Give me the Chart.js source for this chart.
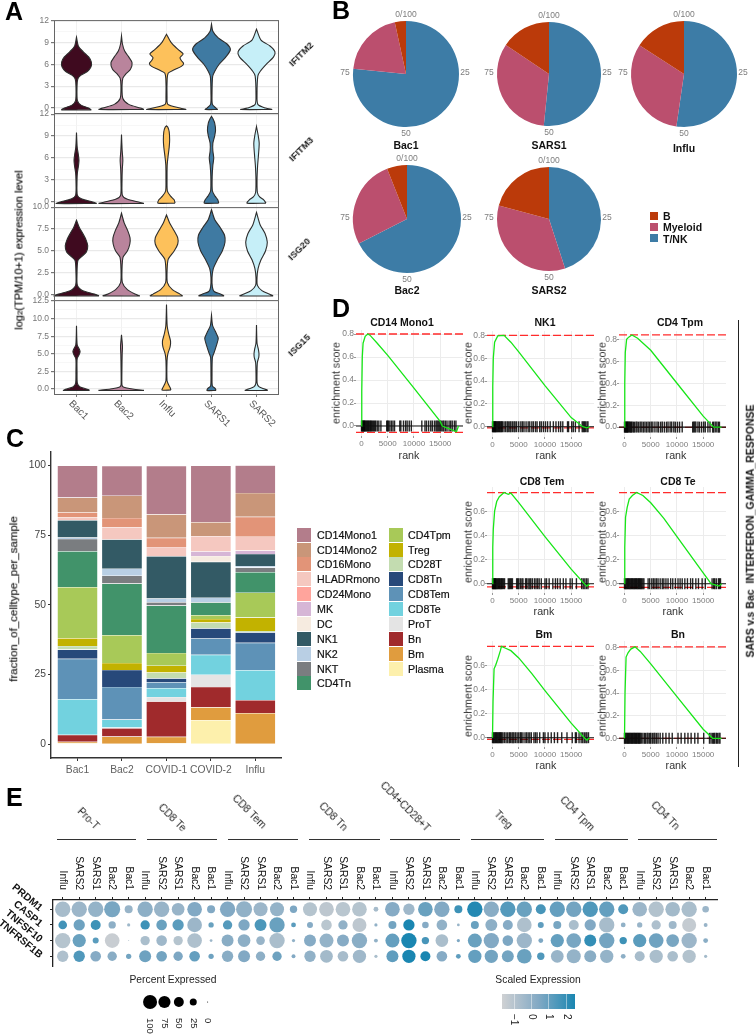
<!DOCTYPE html>
<html>
<head>
<meta charset="utf-8">
<script src="https://cdn.jsdelivr.net/npm/chart.js@4"></script>
<style>
  body { margin: 0; background: #fff; }
  #root { position: relative; width: 756px; height: 1034px; overflow: hidden; font-family: "Liberation Sans", Arial, sans-serif; }
  #root canvas, .t, .sq, .ln { position: absolute; }
  .t { white-space: nowrap; line-height: 1; will-change: transform; }
</style>
</head>
<body>
<div id="root"></div>
<script>
// ---- panel A data: [value, half width] profiles of each violin
var groups = ['Bac1', 'Bac2', 'Influ', 'SARS1', 'SARS2'];
var groupColors = ['#3f0a1f', '#b9849c', '#fdc15b', '#3f7aa2', '#c6eff8'];
var ifitm2 = [
  [[-0.25,.33],[0,.27],[0.4,.1],[1,.02],[3,.012],[4,.03],[4.5,.1],[5,.24],[5.6,.32],[6.3,.33],[7,.27],[7.7,.15],[8.5,.04],[9.7,0]],
  [[-0.2,.5],[0,.42],[.5,.16],[1.3,.03],[3,.012],[4.1,.03],[4.7,.1],[5.3,.2],[6.2,.235],[7,.16],[7.8,.07],[8.8,.02],[9.9,0]],
  [[-0.2,.44],[0,.3],[.5,.03],[1.5,.012],[4,.015],[4.8,.04],[5.2,.16],[5.7,.33],[6.1,.38],[6.5,.33],[6.9,.3],[7.4,.37],[8,.26],[9,.1],[10.1,0]],
  [[-0.2,.14],[0,.1],[.5,.02],[2,.012],[4.3,.025],[5,.07],[6,.17],[7,.32],[8,.42],[8.8,.34],[9.6,.15],[10.5,.03],[11.5,0]],
  [[-0.2,.35],[0,.2],[.5,.03],[2,.012],[4.4,.03],[5,.08],[6,.22],[7,.38],[7.7,.41],[8.5,.3],[9.3,.1],[10.8,0]]
];
var ifitm3 = [
  [[-.2,.45],[0,.36],[.4,.12],[.9,.02],[3,.012],[4,.02],[5,.045],[5.7,.055],[6.5,.04],[7.5,.015],[9.5,0]],
  [[-.2,.5],[0,.38],[.4,.12],[.9,.02],[3,.012],[4.5,.018],[5.7,.03],[7,.015],[9.2,0]],
  [[-.15,.19],[.3,.17],[.8,.09],[1.5,.02],[3,.012],[5,.015],[6,.03],[7.5,.06],[8.5,.07],[9.6,.06],[10.2,.03],[10.4,0]],
  [[-.15,.16],[.3,.14],[.8,.08],[1.5,.02],[3.5,.015],[5,.03],[6,.05],[7,.03],[8,.03],[9,.07],[9.8,.09],[10.8,.07],[11.4,.03],[11.7,0]],
  [[-.15,.21],[.3,.16],[.7,.07],[1.3,.02],[3,.012],[5,.025],[6.5,.045],[8,.06],[9,.04],[10.3,0]]
];
var isg20 = [
  [[-.1,.5],[.1,.4],[.5,.13],[1.1,.02],[2.5,.012],[3.9,.03],[4.3,.1],[4.9,.22],[5.6,.25],[6.3,.21],[7,.14],[7.7,.06],[8.5,0]],
  [[-.1,.41],[.1,.3],[.6,.13],[1.4,.02],[3,.012],[4.3,.035],[5,.13],[5.8,.185],[6.5,.19],[7.3,.14],[8.2,.06],[9.3,0]],
  [[-.1,.36],[.1,.3],[.6,.13],[1.4,.02],[3,.015],[4.1,.04],[5,.17],[5.8,.25],[6.5,.25],[7.3,.17],[8.2,.07],[9.1,0]],
  [[-.1,.28],[.1,.2],[.4,.06],[.9,.02],[2,.012],[3,.04],[4,.13],[5,.24],[6,.3],[6.8,.29],[7.7,.19],[8.6,.07],[9.7,0]],
  [[-.1,.37],[.1,.28],[.5,.12],[1.1,.02],[2,.012],[3,.035],[4,.1],[5,.2],[6,.24],[7,.19],[8,.08],[9.4,0]]
];
var isg15 = [
  [[-.2,.29],[0,.22],[.3,.08],[.8,.02],[2.5,.012],[4.3,.015],[4.9,.06],[5.3,.08],[5.7,.06],[6.3,.015],[9,0]],
  [[-.2,.5],[0,.25],[.3,.04],[.6,.01],[3,.01],[5,.015],[6,.022],[7,.01],[7.7,0]],
  [[-.15,.1],[.2,.08],[.7,.04],[1.2,.012],[4,.012],[5,.03],[6,.08],[6.8,.09],[7.8,.05],[9,.015],[12,0]],
  [[-.2,.1],[.1,.08],[.4,.02],[2,.012],[4.5,.02],[5.2,.06],[6.2,.11],[7.2,.15],[8,.1],[9,.025],[10.5,0]],
  [[-.2,.25],[0,.18],[.3,.06],[.8,.015],[2.5,.012],[3.8,.02],[4.5,.05],[5,.055],[5.7,.04],[6.5,.012],[9.1,0]]
];
var ticks12 = [0, 1.5, 3, 4.5, 6, 7.5, 9, 10.5, 12];
var ticks10 = [0, 1.25, 2.5, 3.75, 5, 6.25, 7.5, 8.75, 10];
var ticks125 = [0, 1.25, 2.5, 3.75, 5, 6.25, 7.5, 8.75, 10, 11.25, 12.5];

// ---- panel B data: percent of T/NK, Myeloid, B
var pieClasses = ['T/NK', 'Myeloid', 'B'];
var pieColors = ['#3d7ca6', '#bb4f6e', '#bb3a0a'];
var pieBac1 = [76.6, 20, 3.4];
var pieSars1 = [51.6, 32.8, 15.6];
var pieInflu = [52.3, 31.8, 15.9];
var pieBac2 = [67.5, 26.5, 6];
var pieSars2 = [45, 34.2, 20.8];

// ---- panel C data: one value per cell type, top of the stack first
var samples = ['Bac1', 'Bac2', 'COVID-1', 'COVID-2', 'Influ'];
var cellTypes = ['CD14Mono1','CD14Mono2','CD16Mono','HLADRmono','CD24Mono','MK','DC','NK1','NK2','NKT','CD4Tn',
                 'CD4Tpm','Treg','CD28T','CD8Tn','CD8Tem','CD8Te','ProT','Bn','Bm','Plasma'];
var cellColors = ['#b37d8b','#c99679','#e29478','#f5c8c0','#ffa49c','#d6b6d6','#f6ebe0','#335a65','#b9cfe4','#7a7d80','#41936a',
                  '#a8c958','#c2b200','#c3dcb0','#27497a','#5e92b7','#72d2df','#e4e4e4','#a02a2c','#e09c3e','#fdf0ac'];
var fracBac1 =   [11.5,5.3,1.8,1,0,0,0,6.2,.5,4.4,12.9,18.3,2.8,1.3,3.3,14.5,12.8,0,2.5,.5,.4];
var fracBac2 =   [10.7,8,3.3,4.4,0,0,0,10.5,2.5,2.8,18.5,10,2.5,0,6.1,11.7,2.9,.2,3,2.8,0];
var fracCovid1 = [17.4,8.4,3.3,3.3,0,0,0,15.2,1.3,1.2,17,4.6,2.4,2.1,1.4,2.1,3.2,1.6,12.7,2.3,.4];
var fracCovid2 = [20.3,5,0,5.5,0,1.6,2.1,12.9,1.5,.2,4.5,1.4,1.3,2.1,3.6,5.9,7.1,4.4,7.3,4.6,8.7];
var fracInflu =  [9.9,8.6,7.1,5,0,1.2,0,4.3,.6,1.6,7.4,8.9,4.8,.5,3.8,9.8,10.7,0,4.7,11.2,0];
var fracTicks = [0, 25, 50, 75, 100];

// ---- panel D data: running enrichment score and hit ranks of each gene set plot
var gseaNames = ['CD14 Mono1', 'NK1', 'CD4 Tpm', 'CD8 Tem', 'CD8 Te', 'Bm', 'Bn'];
var curveMono = [[0,0],[50,.3],[150,.6],[300,.72],[700,.78],[1200,.8],[1600,.79],[3000,.72],[5000,.615],[10000,.33],[15000,.04],[15400,0],[17000,-.03],[18100,-.05],[18500,0]];
var curveNk = [[0,0],[50,.35],[150,.6],[400,.74],[1000,.795],[2200,.8],[3500,.74],[5000,.655],[10000,.36],[15000,.08],[17200,0],[18000,-.01],[18500,0]];
var curveTpm = [[0,0],[50,.4],[150,.68],[400,.8],[800,.82],[1400,.84],[2500,.81],[5000,.7],[7500,.55],[10000,.4],[15000,.1],[17000,0],[18500,0]];
var curveTem = [[0,0],[50,.3],[150,.45],[400,.6],[800,.68],[1300,.72],[2200,.755],[3000,.74],[3500,.75],[5000,.67],[10000,.39],[15000,.12],[17500,0],[18000,-.02],[18500,0]];
var curveTe = [[0,0],[50,.3],[200,.55],[500,.63],[900,.7],[1500,.73],[2300,.755],[3500,.73],[5000,.67],[7500,.54],[10000,.39],[15000,.09],[16500,0],[18000,-.02],[18500,0]];
var curveBm = [[0,0],[100,.3],[300,.57],[600,.6],[1000,.65],[1500,.72],[1700,.755],[2500,.74],[3500,.72],[5000,.66],[7500,.53],[10000,.39],[15000,.12],[17500,0],[18000,-.02],[18500,0]];
var curveBn = [[0,0],[100,.4],[300,.72],[700,.76],[1200,.79],[2000,.81],[3000,.77],[5000,.66],[10000,.37],[15000,.08],[16800,0],[18500,0]];
var gseaCurves = [curveMono, curveNk, curveTpm, curveTem, curveTe, curveBm, curveBn];
var gseaPeaks = [[.8,-.055], [.8,-.01], [.84,-.002], [.754,-.027], [.754,-.03], [.755,-.014], [.81,0]];
var rugMono = [0,100,200,300,400,500,600,700,850,1000,1150,1300,1450,1600,1750,1900,2100,2300,2500,2700,3000,3300,3700,4800,5000,5100,5400,5700,6000,6300,7300,7500,8000,8400,8700,9100,9500,11500,12100,12400,12800,13200,13500,13900,14200,14400,14600,14800,15000,15200,15500,15700,16000,16300,16700,17000,17300,17700,18000];
var rugNk = [0,100,200,300,400,500,600,700,850,1000,1150,1300,1450,1600,1750,1900,2200,2500,2800,3000,3300,3500,3800,4100,4300,4600,5000,5400,5700,6000,6400,6800,7100,7500,7800,8200,8500,9000,9300,9700,10100,10500,11000,11600,12100,12600,13000,13400,14300,14500,15100,15400,15800,16500,17100,17300,17500,17700,18000,18200];
var rugTpm = [0,100,200,300,400,500,600,700,850,1000,1150,1300,1450,1700,1900,2200,2400,2700,3000,3300,3600,3900,4200,4500,4800,5100,5400,5800,6200,6500,6900,7200,7600,8000,8300,8700,9000,9400,9700,10100,10500,11000,13000,13200,13400,13600,14000,14300,14700,15100,15400,15900,16300,16800,17000,17300,17600,17900,18100];
var rugTem = [0,100,200,300,400,500,600,700,850,1000,1150,1300,1450,1600,1750,1900,2100,2300,3000,3200,3400,3600,3800,4600,4800,5000,5300,5600,5800,6300,6500,6800,7100,7300,7600,8000,8300,8600,8900,9300,10000,10300,10800,11500,12000,12400,12900,13500,14000,14800,15200,16000,17000,17300,17600,17900,18200];
var rugTe = [0,150,300,450,600,750,900,1050,1200,1350,1500,1650,1800,1950,2100,2250,2400,2550,2700,2850,3000,3150,3300,3500,3700,4500,4800,5200,5500,5800,6100,6400,6800,7200,7500,7900,8300,8800,9200,9700,10200,10600,11000,11500,12000,12600,13000,13600,14100,14800,15400,16700,17000,17200,17500,17900,18100,18300];
var rugBm = [0,150,300,450,600,750,900,1050,1200,1350,1500,1650,1800,2000,2300,2600,2900,3200,3400,3700,3900,4100,4400,4700,5000,5300,5500,5800,6200,6500,6800,7100,7400,7900,8200,8500,9000,9700,10000,10600,11200,11800,12400,13200,14200,15200,15800,16000,16500,16900,17200,17500,17800,18000,18300];
var rugBn = [0,150,300,450,600,750,900,1050,1200,1350,1500,1650,1800,1950,2100,2250,2400,2550,2700,2850,3000,3200,3500,3800,4000,4300,4500,4800,5000,5300,5600,5800,6100,6400,6800,7300,7900,8500,9100,10200,10800,11500,12100,12700,13400,14000,15100,16200,16500,16800,17000,17200,17500,17700,18000,18200];
var gseaRugs = [rugMono, rugNk, rugTpm, rugTem, rugTe, rugBm, rugBn];
var rankTicks = [0, 5000, 10000, 15000];
var scoreTicks = [0, .2, .4, .6, .8];
var scoreTicksLow = [0, .2, .4, .6];

// ---- panel E data: 8 cell groups of 5 samples, four genes
var dotGroups = ['Pro-T', 'CD8 Te', 'CD8 Tem', 'CD8 Tn', 'CD4+CD28+T', 'Treg', 'CD4 Tpm', 'CD4 Tn'];
var dotSamples = ['Influ', 'SARS2', 'SARS1', 'Bac2', 'Bac1'];
var dotGenes = ['PRDM1', 'CASP1', 'TNFSF10', 'TNFRSF1B'];
var pctPrdm1 = [92,92,92,100,25, 92,92,63,84,25, 92,100,77,77,21, 77,84,84,84,9, 84,50,84,92,25, 92,92,92,92,39, 92,92,92,92,39, 84,92,84,92,17];
var expPrdm1 = [-.6,-.3,-.1,.6,-.2, .1,-.2,-.2,.4,.4, .4,0,-.3,-.1,.5, -1,-1.2,-1.1,-1,-.6, .3,-.4,.9,.4,1.8, 2.3,.2,1.3,.9,1.6, 1,.7,1.4,1,1.4, -.3,-.9,-.5,-.7,-.3];
var pctCasp1 = [29,50,39,21,4, 34,44,50,84,11, 34,50,56,92,9, 14,44,34,77,4, 25,50,17,44,3, 25,56,39,84,14, 25,39,50,92,9, 11,34,25,77,6];
var expCasp1 = [1.7,.8,1.8,.1,-.4, 1.8,.9,1.2,-.3,.9, 1.3,.5,1.5,.9,1.2, .3,-1.1,0,-1.2,0, .7,2.5,.3,0,-.2, .9,.1,.3,-.8,1.1, .6,-.7,.4,-.6,0, -.2,-.8,-.4,-1.4,-.2];
var pctTnfsf10 = [92,69,14,84,.4, 34,44,34,84,3, 56,63,29,92,4, 56,77,56,92,6, 77,92,21,63,4, 77,92,44,92,9, 69,84,56,92,21, 69,84,63,92,9];
var expTnfsf10 = [-1,.9,1.2,-1.5,-1, -.7,-.4,-1,-.8,-.3, .2,.1,-.2,-.7,0, .3,-.1,.3,.2,0, 1,2.5,1.6,-.7,.5, .9,.4,.5,-.3,.5, 1,.6,2,.7,1.8, 1.2,.8,.6,-.3,.2];
var pctTnfrsf1b = [50,50,44,34,11, 56,44,34,44,11, 50,56,34,34,6, 50,63,44,69,4, 56,69,39,44,9, 69,69,56,84,21, 63,77,56,69,9, 39,69,44,69,4];
var expTnfrsf1b = [-.8,1.4,.3,.2,.7, .8,.7,.5,1,.8, .2,.4,.1,.8,.4, 0,-.5,-.6,-.4,-.7, 1.1,2.5,2.5,.3,1.1, 1,.7,.7,.9,1.4, -.2,-.1,.2,-.1,.1, -.6,-.7,-.7,-.9,-.5];
var dotPct = [pctPrdm1, pctCasp1, pctTnfsf10, pctTnfrsf1b];
var dotExp = [expPrdm1, expCasp1, expTnfsf10, expTnfrsf1b];
var legendPct = [100, 75, 50, 25, 0];
var legendExpTicks = [-1, 0, 1, 2];

// ---- helpers
var root = document.getElementById('root');
var FONT = '"Liberation Sans", Arial, sans-serif';
Chart.defaults.font.family = FONT;
Chart.defaults.animation = false;
Chart.defaults.responsive = false;
Chart.defaults.maintainAspectRatio = false;
Chart.defaults.plugins.legend.display = false;
Chart.defaults.plugins.tooltip.enabled = false;

// tick labels at any angle, placed from the scale
Chart.register({
  id: 'rotTicks',
  afterDraw: function(chart, args, o) {
    if (!o.axis) return;
    var sc = chart.scales[o.axis], ca = chart.chartArea, ctx = chart.ctx;
    ctx.save();
    ctx.font = o.font;
    ctx.fillStyle = o.color;
    ctx.textAlign = o.align;
    ctx.textBaseline = 'middle';
    sc.ticks.forEach(function(t) {
      var p = sc.getPixelForValue(t.value);
      ctx.save();
      if (o.axis === 'x') ctx.translate(p + o.dx, (o.top ? ca.top : ca.bottom) + o.dy);
      else ctx.translate(ca.left + o.dx, p + o.dy);
      ctx.rotate(o.angle * Math.PI / 180);
      ctx.fillText(t.label, 0, 0);
      ctx.restore();
    });
    ctx.restore();
  }
});
// panel border
Chart.register({
  id: 'box',
  afterDraw: function(chart, args, o) {
    if (!o.color) return;
    var ca = chart.chartArea, ctx = chart.ctx;
    ctx.save();
    ctx.strokeStyle = o.color;
    ctx.lineWidth = 1;
    ctx.strokeRect(ca.left + .5, ca.top + .5, ca.right - ca.left - 1, ca.bottom - ca.top);
    ctx.restore();
  }
});
// percent marks and name around a pie
Chart.register({
  id: 'pieMarks',
  afterDraw: function(chart, args, o) {
    if (!o.name) return;
    var a = chart.getDatasetMeta(0).data[0], R = a.outerRadius, ctx = chart.ctx;
    ctx.save();
    ctx.textAlign = 'center';
    ctx.textBaseline = 'middle';
    ctx.fillStyle = '#7d7d7d';
    ctx.font = '8.5px ' + FONT;
    ctx.fillText('0/100', a.x, a.y - R - 6.5);
    ctx.fillText('25', a.x + R + 6, a.y - 1);
    ctx.fillText('50', a.x, a.y + R + 7);
    ctx.fillText('75', a.x - R - 8, a.y - 1);
    ctx.fillStyle = '#111';
    ctx.font = 'bold 10.5px ' + FONT;
    ctx.fillText(o.name, a.x, a.y + R + o.gap);
    ctx.restore();
  }
});

function fixedTicks(list) {
  return function(s) { s.ticks = list.map(function(v) { return { value: v }; }); };
}

// canvas whose plot area is exactly x0..x1, y0..y1, with fixed margins m for the axes
function mk(x0, y0, x1, y1, m, cfg) {
  var c = document.createElement('canvas');
  c.width = x1 - x0 + m.l + m.r;
  c.height = y1 - y0 + m.t + m.b;
  c.style.left = (x0 - m.l) + 'px';
  c.style.top = (y0 - m.t) + 'px';
  root.appendChild(c);
  var pad = { left: m.l, right: m.r, top: m.t, bottom: m.b };
  Object.keys(cfg.options.scales).forEach(function(k) {
    var s = cfg.options.scales[k];
    pad[s.position] = 0;
    s.afterFit = function(b) {
      var side = { left: 'l', right: 'r', top: 't', bottom: 'b' }[s.position];
      if (b.isHorizontal()) b.height = m[side]; else b.width = m[side];
    };
  });
  cfg.options.layout = { autoPadding: false, padding: pad };
  return new Chart(c, cfg);
}

function txt(s, x, y, size, o) {
  o = o || {};
  var d = document.createElement('div');
  d.className = 't';
  d.innerHTML = s;
  d.style.left = x + 'px';
  d.style.top = y + 'px';
  d.style.fontSize = size + 'px';
  d.style.color = o.color || '#111';
  d.style.fontWeight = o.bold ? 'bold' : 'normal';
  if (o.stroke) d.style.webkitTextStroke = o.stroke + 'px ' + (o.color || '#111');
  var tx = o.left ? '0,-50%' : '-50%,-50%';
  d.style.transform = 'translate(' + tx + ') rotate(' + (o.rot || 0) + 'deg)';
  root.appendChild(d);
}

function square(x, y, w, h, color) {
  var d = document.createElement('div');
  d.className = 'sq';
  d.style.cssText = 'left:' + x + 'px;top:' + y + 'px;width:' + w + 'px;height:' + h + 'px;background:' + color;
  root.appendChild(d);
}

// ---- panel A
function violinData(profile, center) {
  var right = profile.map(function(p) { return { x: center + p[1], y: p[0] }; });
  var left = profile.slice().reverse().map(function(p) { return { x: center - p[1], y: p[0] }; });
  var pts = right.concat(left);
  pts.push(right[0]);
  return pts;
}

function facet(profiles, y0, y1, min, max, tickList, digits, last) {
  mk(54, y0, 279, y1, { l: 30, r: 0, t: 7, b: last ? 40 : 8 }, {
    type: 'scatter',
    data: {
      datasets: profiles.map(function(p, i) {
        return {
          data: violinData(p, i + 1), showLine: true, pointRadius: 0, tension: .25,
          fill: 'shape', backgroundColor: groupColors[i], borderColor: '#2d2d2d', borderWidth: 1.1, clip: false
        };
      })
    },
    options: {
      scales: {
        x: {
          type: 'linear', position: 'bottom', min: .5, max: 5.5,
          afterBuildTicks: fixedTicks([1, 2, 3, 4, 5]),
          ticks: { display: false, callback: function(v) { return groups[v - 1]; } },
          grid: { color: '#f1f1f1', lineWidth: 1, drawTicks: !!last, tickLength: 3, tickColor: '#777' },
          border: { display: false }
        },
        y: {
          type: 'linear', position: 'left', min: min, max: max,
          afterBuildTicks: fixedTicks(tickList),
          ticks: {
            autoSkip: false, padding: 2, color: '#777', font: { size: 8.5 },
            callback: function(v, i) { return i % 2 ? '' : v.toFixed(digits); }
          },
          grid: {
            tickLength: 3,
            color: function(c) { return c.index % 2 ? '#f3f3f3' : '#e9e9e9'; },
            lineWidth: function(c) { return c.index % 2 ? .7 : 1.2; },
            tickColor: function(c) { return c.index % 2 ? 'rgba(0,0,0,0)' : '#777'; }
          },
          border: { display: false }
        }
      },
      plugins: {
        box: { color: '#666' },
        rotTicks: last ? { axis: 'x', angle: 45, align: 'left', dx: -6, dy: 8, font: '10px ' + FONT, color: '#555' } : {}
      }
    }
  });
}
facet(ifitm2, 20, 113, -.68, 12.04, ticks12, 0, false);
facet(ifitm3, 113, 207, -.68, 12.14, ticks12, 0, false);
facet(isg20, 207, 300, -.57, 10, ticks10, 1, false);
facet(isg15, 300, 394, -.71, 12.64, ticks125, 1, true);
txt('IFITM2', 301, 54, 9.5, { bold: true, rot: -45, color: '#222' });
txt('IFITM3', 301, 149, 9.5, { bold: true, rot: -45, color: '#222' });
txt('ISG20', 299, 249, 9.5, { bold: true, rot: -45, color: '#222' });
txt('ISG15', 299, 345, 9.5, { bold: true, rot: -45, color: '#222' });
txt('log<span style="font-size:.72em">2</span>(TPM/10+1) expression level', 19, 250, 11, { rot: -90, stroke: .2 });

// ---- panel B
function pie(values, name, cx, cy, r, gap) {
  var c = document.createElement('canvas');
  c.width = 164;
  c.height = 164;
  c.style.left = (cx - 82) + 'px';
  c.style.top = (cy - 82) + 'px';
  root.appendChild(c);
  new Chart(c, {
    type: 'pie',
    data: { labels: pieClasses, datasets: [{ data: values, backgroundColor: pieColors, borderWidth: 0 }] },
    options: { radius: r, plugins: { pieMarks: { name: name, gap: gap } } }
  });
}
pie(pieBac1, 'Bac1', 406, 74, 53, 19);
pie(pieSars1, 'SARS1', 549, 74, 52, 20);
pie(pieInflu, 'Influ', 684, 74, 53, 22);
pie(pieBac2, 'Bac2', 407, 219, 54, 18);
pie(pieSars2, 'SARS2', 549, 219, 52, 20.5);
[['B', 2], ['Myeloid', 1], ['T/NK', 0]].forEach(function(l, i) {
  square(650, 211.5 + i * 11.3, 8, 8, pieColors[l[1]]);
  txt(l[0], 663, 216 + i * 11.3, 10.5, { bold: true, left: true });
});

// ---- panel C
var fracBySample = [fracBac1, fracBac2, fracCovid1, fracCovid2, fracInflu];
mk(51, 452, 282, 758, { l: 30, r: 0, t: 8, b: 22 }, {
  type: 'bar',
  data: {
    // first drawn at the bottom of the stack
    datasets: cellTypes.map(function(name, i) {
      return {
        label: name,
        data: fracBySample.map(function(f, s) { return { x: s + 1, y: f[i] }; }),
        backgroundColor: cellColors[i], borderColor: 'rgba(255,255,255,.45)', borderWidth: .4,
        barPercentage: .91, categoryPercentage: 1
      };
    }).reverse()
  },
  options: {
    scales: {
      x: {
        type: 'linear', position: 'bottom', stacked: true, offset: false, min: .404, max: 5.6,
        afterBuildTicks: fixedTicks([1, 2, 3, 4, 5]),
        ticks: {
          autoSkip: false, maxRotation: 0, padding: 3, color: '#5f5f5f', font: { size: 10.3 },
          callback: function(v) { return samples[v - 1]; }
        },
        grid: { offset: false, drawOnChartArea: false, tickLength: 3, color: '#333' },
        border: { color: '#333', width: 1.4 }
      },
      y: {
        type: 'linear', position: 'left', stacked: true, min: -4.9, max: 104.8,
        afterBuildTicks: fixedTicks(fracTicks),
        ticks: { autoSkip: false, padding: 2, color: '#444', font: { size: 10.3 } },
        grid: { drawOnChartArea: false, tickLength: 3, color: '#333' },
        border: { color: '#333', width: 1.4 }
      }
    }
  }
});
txt('fraction_of_celltype_per_sample', 13.5, 599, 11.5, { rot: -90, stroke: .2, color: '#222' });
cellTypes.forEach(function(name, i) {
  var col = i < 11 ? 0 : 1, row = col ? i - 11 : i;
  var y = 534.7 + row * 14.87;
  square(297 + col * 91.5, y - 7, 14, 14, cellColors[i]);
  txt(name, 317 + col * 91.3, y, 10.7, { left: true, stroke: .2 });
});

// ---- panel D
var gseaBoxes = [
  // x0, y0, x1, y1, score min, score max, ticks
  [356, 330, 463, 436, -.087, .835, scoreTicks],
  [487, 331, 594, 437, -.09, .838, scoreTicks],
  [619, 331, 726, 437, -.09, .876, scoreTicks],
  [487, 487, 594, 593, -.077, .8, scoreTicksLow],
  [619, 487, 726, 593, -.077, .8, scoreTicksLow],
  [487, 641, 594, 747, -.077, .8, scoreTicksLow],
  [619, 641, 726, 747, -.077, .862, scoreTicks]
];
var rankMin = -1050, rankMax = 19350;
gseaNames.forEach(function(name, i) {
  var b = gseaBoxes[i];
  var line = function(y, color, w, dash) {
    return {
      data: [{ x: rankMin, y: y }, { x: rankMax, y: y }], showLine: true, pointRadius: 0,
      borderColor: color, borderWidth: w, borderDash: dash || []
    };
  };
  mk(b[0], b[1], b[2], b[3], { l: 16, r: 2, t: 6, b: 14 }, {
    type: 'scatter',
    data: {
      // first dataset is drawn on top
      datasets: [
        {
          data: gseaCurves[i].map(function(p) { return { x: p[0], y: p[1] }; }),
          showLine: true, pointRadius: 0, borderColor: '#17e617', borderWidth: 1.3
        },
        line(0, '#111', 1.1),
        {
          data: gseaRugs[i].map(function(r) { return { x: r, y: 0 }; }),
          showLine: false, pointStyle: 'line', pointRotation: 90, pointRadius: 5.5,
          pointBorderWidth: 1.4, pointBorderColor: 'rgba(0,0,0,.85)'
        },
        line(gseaPeaks[i][0], '#ff2b2b', 1.3, [8, 3]),
        line(gseaPeaks[i][1], '#ff2b2b', 1.3, [8, 3])
      ]
    },
    options: {
      scales: {
        x: {
          type: 'linear', position: 'bottom', min: rankMin, max: rankMax,
          afterBuildTicks: fixedTicks(rankTicks),
          ticks: {
            autoSkip: false, maxRotation: 0, padding: 1, color: '#7d7d7d', font: { size: 8 },
            callback: function(v) { return String(v); }
          },
          grid: { color: '#ececec', tickLength: 2, tickColor: '#999' },
          border: { display: false }
        },
        y: {
          type: 'linear', position: 'left', min: b[4], max: b[5],
          afterBuildTicks: fixedTicks(b[6]),
          ticks: {
            autoSkip: false, padding: 0, color: '#7d7d7d', font: { size: 8.5 },
            callback: function(v) { return v.toFixed(1); }
          },
          grid: { color: '#ececec', tickLength: 2, tickColor: '#999' },
          border: { display: false }
        }
      }
    }
  });
});
[[402, 322], [545, 322], [680, 322], [542, 481], [678, 481], [544, 633.5], [678, 633.5]].forEach(function(p, i) {
  txt(gseaNames[i], p[0], p[1], 10.5, { bold: true });
});
[[336, 383], [467.5, 383], [601.5, 383], [467.5, 542], [601.5, 542], [467.5, 696], [601.5, 696]].forEach(function(p) {
  txt('enrichment score', p[0], p[1], 10.7, { rot: -90, color: '#333' });
});
[[409, 455], [545.5, 455], [675.5, 455], [544, 611], [673, 611], [545.5, 765], [675.5, 765]].forEach(function(p) {
  txt('rank', p[0], p[1], 10.7, { color: '#333' });
});
square(737.5, 320, 1.4, 447, '#222');
txt('SARS v.s Bac &nbsp;INTERFERON_GAMMA_RESPONSE', 750, 531, 10.5, { bold: true, rot: -90 });

// ---- panel E
function expColor(v) {
  var stops = [[-1.7, 207, 209, 211], [.4, 130, 169, 196], [2.5, 26, 134, 177]];
  var a = v < .4 ? stops[0] : stops[1], b = v < .4 ? stops[1] : stops[2];
  var t = Math.max(0, Math.min(1, (v - a[0]) / (b[0] - a[0])));
  return 'rgb(' + [1, 2, 3].map(function(k) { return Math.round(a[k] + (b[k] - a[k]) * t); }).join(',') + ')';
}
var columnLabels = [], columnIdx = [];
dotGroups.forEach(function() { dotSamples.forEach(function(s) { columnLabels.push(s); columnIdx.push(columnLabels.length); }); });

mk(53, 900, 718, 966, { l: 53, r: 0, t: 50, b: 4 }, {
  type: 'bubble',
  data: {
    datasets: dotGenes.map(function(g, row) {
      return {
        label: g,
        data: dotPct[row].map(function(p, c) { return { x: c + 1, y: row + 1, r: 8 * Math.sqrt(p / 100) }; }),
        backgroundColor: dotExp[row].map(expColor), borderWidth: 0
      };
    })
  },
  options: {
    scales: {
      x: {
        type: 'linear', position: 'top', min: .41, max: 40.75,
        afterBuildTicks: fixedTicks(columnIdx),
        ticks: { display: false, callback: function(v) { return columnLabels[v - 1]; } },
        grid: { drawOnChartArea: false, tickLength: 3, color: '#222' },
        border: { color: '#222', width: 1.3 }
      },
      y: {
        type: 'linear', position: 'left', reverse: true, min: .41, max: 4.62,
        afterBuildTicks: fixedTicks([1, 2, 3, 4]),
        ticks: { display: false, callback: function(v) { return dotGenes[v - 1]; } },
        grid: { drawOnChartArea: false, tickLength: 3, color: '#222' },
        border: { color: '#222', width: 1.3 }
      }
    },
    plugins: { rotTicks: { axis: 'x', top: true, angle: 90, align: 'right', dx: 0, dy: -10, font: '10.3px ' + FONT, color: '#111' } }
  },
  plugins: [{
    // gene names along the left axis
    id: 'geneLabels',
    afterDraw: function(chart) {
      var sc = chart.scales.y, ctx = chart.ctx;
      ctx.save();
      ctx.font = 'bold 10.3px ' + FONT;
      ctx.fillStyle = '#111';
      ctx.textAlign = 'right';
      ctx.textBaseline = 'middle';
      sc.ticks.forEach(function(t) {
        ctx.save();
        ctx.translate(chart.chartArea.left - 12, sc.getPixelForValue(t.value));
        ctx.rotate(40 * Math.PI / 180);
        ctx.fillText(t.label, 0, 0);
        ctx.restore();
      });
      ctx.restore();
    }
  }]
});

var bracketSpans = [[57, 136], [147, 217], [228, 298], [309, 380], [390, 460], [471, 544], [555, 628], [638, 717]];
var groupLabelAt = [[88, 819], [172, 818], [249, 812], [333, 817], [405, 807], [503, 820], [577, 814], [665, 816]];
dotGroups.forEach(function(g, i) {
  var s = bracketSpans[i];
  square(s[0], 839, s[1] - s[0], 1, '#333');
  txt(g, groupLabelAt[i][0], groupLabelAt[i][1], 10.3, { rot: 45, color: '#222' });
});

// size legend
txt('Percent Expressed', 172.5, 979.5, 10.3, { color: '#222' });
mk(143, 993, 216, 1011, { l: 0, r: 0, t: 0, b: 23 }, {
  type: 'bubble',
  data: {
    datasets: [{
      data: legendPct.map(function(p, i) { return { x: i + 1, y: 0, r: Math.max(.5, 7 * Math.sqrt(p / 100)) }; }),
      backgroundColor: '#000', borderWidth: 0
    }]
  },
  options: {
    scales: {
      x: {
        type: 'linear', position: 'bottom', min: .51, max: 5.58,
        afterBuildTicks: fixedTicks([1, 2, 3, 4, 5]),
        ticks: { display: false, callback: function(v) { return String(legendPct[v - 1]); } },
        grid: { display: false }, border: { display: false }
      },
      y: {
        type: 'linear', position: 'left', min: -1, max: 1,
        ticks: { display: false }, grid: { display: false }, border: { display: false }
      }
    },
    plugins: { rotTicks: { axis: 'x', angle: 90, align: 'left', dx: 0, dy: 7, font: '9.5px ' + FONT, color: '#222' } }
  }
});

// colour legend
txt('Scaled Expression', 537.5, 979.5, 10.3, { color: '#222' });
mk(502, 994, 575, 1009, { l: 0, r: 0, t: 0, b: 24 }, {
  type: 'bar',
  data: {
    labels: [''],
    datasets: [{
      data: [[-1.7, 2.5]], barPercentage: 1, categoryPercentage: 1, borderWidth: 0,
      backgroundColor: function(c) {
        var a = c.chart.chartArea;
        if (!a) return '#999';
        var g = c.chart.ctx.createLinearGradient(a.left, 0, a.right, 0);
        [0, .25, .5, .75, 1].forEach(function(t) { g.addColorStop(t, expColor(-1.7 + 4.2 * t)); });
        return g;
      }
    }]
  },
  options: {
    indexAxis: 'y',
    scales: {
      x: {
        type: 'linear', position: 'bottom', min: -1.7, max: 2.5,
        afterBuildTicks: fixedTicks(legendExpTicks),
        ticks: { display: false, callback: function(v) { return v < 0 ? '\u22121' : String(v); } },
        grid: { color: 'rgba(255,255,255,.45)', z: 1, drawTicks: false }, border: { display: false }
      },
      y: {
        type: 'category', position: 'left',
        ticks: { display: false }, grid: { display: false }, border: { display: false }
      }
    },
    plugins: { rotTicks: { axis: 'x', angle: 90, align: 'left', dx: 0, dy: 5, font: '10px ' + FONT, color: '#222' } }
  }
});

// panel letters
[['A', 5, 11], ['B', 332, 10], ['C', 6, 438], ['D', 332, 308], ['E', 6, 797]].forEach(function(l) {
  txt(l[0], l[1], l[2], 25, { bold: true, left: true, color: '#000' });
});
</script>
</body>
</html>
